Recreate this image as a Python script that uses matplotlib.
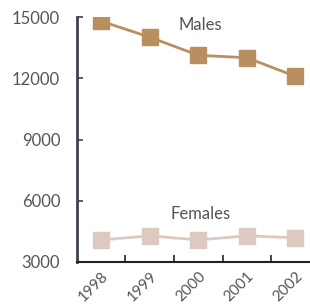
import numpy as np
import matplotlib.pyplot as plt
from matplotlib.transforms import ScaledTranslation

years = ['1998', '1999', '2000', '2001', '2002']
males = [14800, 14020, 13130, 13010, 12100]
females = [4080, 4280, 4080, 4280, 4180]
yticks = [3000, 6000, 9000, 12000, 15000]

male_col = '#b98f5f'
female_col = '#dcc9bf'
text_col = '#555555'

plt.rcParams['font.family'] = ['Lato', 'DejaVu Sans']

fig = plt.figure(figsize=(3.10, 3.06), dpi=100)
ax = fig.add_axes([0.248, 0.144, 0.752, 0.8])

x = np.arange(len(years))
ax.plot(x, males, color=male_col, lw=2, marker='s', ms=12, mec=male_col)
ax.plot(x, females, color=female_col, lw=2, marker='s', ms=12, mec=female_col)

ax.text(2.05, 14600, 'Males', color=text_col, fontsize=12, ha='center', va='center')
ax.text(2.05, 5360, 'Females', color=text_col, fontsize=12, ha='center', va='center')

ax.set_xlim(-0.5, 4.3)
ax.set_ylim(3000, 15000)
ax.set_yticks(yticks)
ax.set_yticklabels([str(v) for v in yticks], color=text_col, fontsize=12)
ax.set_xticks(x)
ax.set_xticklabels(years, rotation=45, ha='right', rotation_mode='anchor',
                   color=text_col, fontsize=11)
shift = ScaledTranslation(9 / 100, 0, fig.dpi_scale_trans)
for lab in ax.get_xticklabels():
    lab.set_transform(lab.get_transform() + shift)
ax.set_xticks(x[:-1] + 0.5, minor=True)
ax.tick_params(axis='x', which='major', length=0, pad=5)
ax.tick_params(axis='x', which='minor', direction='in', length=5, width=1.2, color='#222222')
ax.tick_params(axis='y', direction='in', length=4, width=1.2, color='#3d434d', pad=12)

for s in ['top', 'right']:
    ax.spines[s].set_visible(False)
ax.spines['left'].set_color('#3d434d')
ax.spines['left'].set_linewidth(2)
ax.spines['bottom'].set_color('#222222')
ax.spines['bottom'].set_linewidth(1.5)

fig.savefig('out.png', dpi=100)
